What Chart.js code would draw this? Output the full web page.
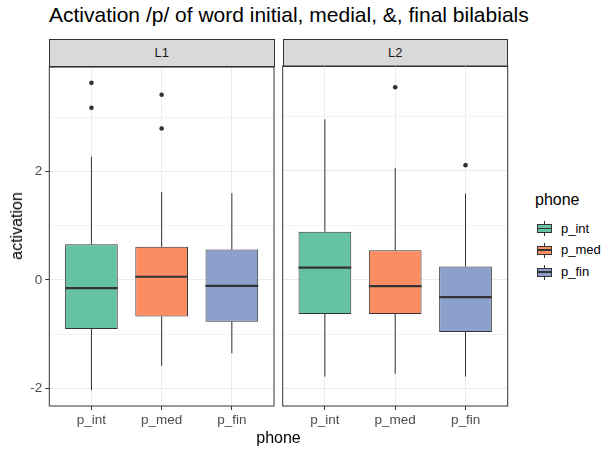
<!DOCTYPE html>
<html>
<head>
<meta charset="utf-8">
<script src="https://cdn.jsdelivr.net/npm/chart.js@4.4.1/dist/chart.umd.min.js"></script>
<style>
  body { margin: 0; background: #fff; font-family: "Liberation Sans", Arial, sans-serif; }
  #wrap { position: relative; width: 608px; height: 452px; overflow: hidden; }
  .abs { position: absolute; white-space: nowrap; }
  #title { left: 49px; top: 3px; font-size: 21px; color: #000; }
  .strip { top: 39px; height: 27.5px; background: #D9D9D9; border: 1px solid #333; box-sizing: border-box;
           font-size: 13px; color: #1A1A1A; text-align: center; line-height: 25px; }
  .axtitle { font-size: 16px; color: #000; transform: translate(-50%, -50%); }
  #ytitle { left: 17px; top: 226px; transform: translate(-50%, -50%) rotate(-90deg); }
  #xtitle { left: 278.5px; top: 438px; }
  #legtitle { left: 535px; top: 191px; font-size: 16px; }
  .key { width: 17px; height: 17px; }
  .key .wh { position: absolute; left: 8px; top: 1px; width: 1px; height: 15px; background: #333; }
  .key .bx { position: absolute; left: 1px; top: 4px; width: 15px; height: 9px; border: 1px solid #333; box-sizing: border-box; }
  .key .md { position: absolute; left: 1px; top: 7.8px; width: 15px; height: 1.5px; background: #333; }
  .leglab { font-size: 13px; color: #000; }
  canvas { position: absolute; }
</style>
</head>
<body>
<div id="wrap">
  <div id="title" class="abs">Activation /p/ of word initial, medial, &amp;, final bilabials</div>
  <div class="abs strip" style="left:49px; width:225.5px;">L1</div>
  <div class="abs strip" style="left:282.5px; width:225.5px;">L2</div>
  <canvas id="c1" width="280" height="396" style="left:0; top:56px;"></canvas>
  <canvas id="c2" width="236" height="396" style="left:276px; top:56px;"></canvas>
  <div id="ytitle" class="abs axtitle">activation</div>
  <div id="xtitle" class="abs axtitle">phone</div>
  <div id="legtitle" class="abs">phone</div>
</div>
<script>
// categories and colours
const phones = ['p_int', 'p_med', 'p_fin'];
const fills = ['#66C2A5', '#FC8D62', '#8DA0CB'];

// L1 box summaries
const l1Low    = [-2.03, -1.58, -1.35];
const l1Q1     = [-0.90, -0.67, -0.77];
const l1Median = [-0.15,  0.06, -0.11];
const l1Q3     = [ 0.66,  0.61,  0.56];
const l1High   = [ 2.27,  1.62,  1.60];
const l1Outliers = [[3.63, 3.17], [3.41, 2.79], []];

// L2 box summaries
const l2Low    = [-1.78, -1.73, -1.78];
const l2Q1     = [-0.63, -0.63, -0.96];
const l2Median = [ 0.22, -0.12, -0.32];
const l2Q3     = [ 0.88,  0.54,  0.24];
const l2High   = [ 2.94,  2.05,  1.58];
const l2Outliers = [[], [3.53], [2.10]];

// axis
const yTickLabels = [-2, 0, 2];
const yMin = -2.32, yMax = 3.92;

const FONT = '"Liberation Sans", Arial, sans-serif';
const INK = '#333333';

// whiskers under the boxes, medians over them, and the panel frame
const boxplotParts = {
  id: 'boxplotParts',
  beforeDatasetsDraw(chart, args, opts) {
    const { ctx, scales: { x, y } } = chart;
    ctx.save();
    ctx.strokeStyle = INK;
    ctx.lineWidth = 1;
    phones.forEach((p, i) => {
      const px = x.getPixelForValue(i + 1);
      ctx.beginPath();
      ctx.moveTo(px, y.getPixelForValue(opts.high[i]));
      ctx.lineTo(px, y.getPixelForValue(opts.q3[i]));
      ctx.moveTo(px, y.getPixelForValue(opts.q1[i]));
      ctx.lineTo(px, y.getPixelForValue(opts.low[i]));
      ctx.stroke();
    });
    ctx.restore();
  },
  afterDatasetsDraw(chart, args, opts) {
    const { ctx, scales: { y } } = chart;
    const bars = chart.getDatasetMeta(0).data;
    ctx.save();
    ctx.strokeStyle = INK;
    ctx.lineWidth = 2.2;
    bars.forEach((bar, i) => {
      const py = y.getPixelForValue(opts.median[i]);
      ctx.beginPath();
      ctx.moveTo(bar.x - bar.width / 2, py);
      ctx.lineTo(bar.x + bar.width / 2, py);
      ctx.stroke();
    });
    ctx.restore();
  },
  afterDraw(chart) {
    const { ctx, chartArea: a } = chart;
    ctx.save();
    ctx.strokeStyle = INK;
    ctx.lineWidth = 1;
    ctx.strokeRect(a.left, a.top, a.right - a.left, a.bottom - a.top);
    ctx.restore();
  }
};

function makePanel(canvasId, low, q1, median, q3, high, outliers, showY, yAxisWidth, padRight) {
  const boxes = phones.map((p, i) => ({ x: i + 1, y: [q1[i], q3[i]] }));
  const points = [];
  outliers.forEach((vals, i) => vals.forEach(v => points.push({ x: i + 1, y: v })));

  return new Chart(document.getElementById(canvasId), {
    type: 'bar',
    data: {
      datasets: [
        {
          type: 'bar',
          data: boxes,
          backgroundColor: fills,
          borderColor: INK,
          borderWidth: 1,
          borderSkipped: false,
          barPercentage: 0.75,
          categoryPercentage: 1
        },
        {
          type: 'scatter',
          data: points,
          pointRadius: 2.3,
          pointBackgroundColor: INK,
          pointBorderWidth: 0
        }
      ]
    },
    options: {
      responsive: false,
      animation: false,
      events: [],
      layout: { padding: { top: 10, right: padRight, left: 0, bottom: 0 } },
      plugins: {
        legend: { display: false },
        tooltip: { enabled: false },
        boxplotParts: { low, q1, median, q3, high }
      },
      scales: {
        x: {
          type: 'linear',
          min: 0.4,
          max: 3.6,
          offset: false,
          border: { display: false },
          grid: { color: '#EBEBEB', lineWidth: 1, tickColor: INK, tickLength: 4, offset: false },
          ticks: {
            stepSize: 1,
            includeBounds: false,
            autoSkip: false,
            maxRotation: 0,
            padding: 2,
            color: '#4D4D4D',
            font: { size: 13.5, family: FONT },
            callback: v => phones[v - 1] || ''
          },
          afterFit: s => { s.height = 46; }
        },
        y: {
          min: yMin,
          max: yMax,
          border: { display: false },
          grid: {
            color: c => (c.tick && c.tick.value % 2 === 0) ? '#EBEBEB' : '#F3F3F3',
            lineWidth: 1,
            tickColor: c => (c.tick && c.tick.value % 2 === 0) ? INK : 'rgba(0,0,0,0)',
            tickLength: 4,
            drawTicks: showY
          },
          ticks: {
            display: showY,
            stepSize: 1,
            includeBounds: false,
            autoSkip: false,
            padding: 3,
            color: '#4D4D4D',
            font: { size: 13.5, family: FONT },
            callback: v => yTickLabels.includes(v) ? String(v) : ''
          },
          afterFit: s => { s.width = yAxisWidth; }
        }
      }
    },
    plugins: [boxplotParts]
  });
}

makePanel('c1', l1Low, l1Q1, l1Median, l1Q3, l1High, l1Outliers, true, 49.3, 6);
makePanel('c2', l2Low, l2Q1, l2Median, l2Q3, l2High, l2Outliers, false, 6.7, 4.3);

// legend built from the same categories and colours
const wrap = document.getElementById('wrap');
const legendRows = [228.5, 250, 272];
phones.forEach((p, i) => {
  const key = document.createElement('div');
  key.className = 'abs key';
  key.style.left = '535.5px';
  key.style.top = (legendRows[i] - 8.5) + 'px';
  key.innerHTML = '<div class="wh"></div><div class="bx" style="background:' + fills[i] + '"></div><div class="md"></div>';
  wrap.appendChild(key);
  const lab = document.createElement('div');
  lab.className = 'abs leglab';
  lab.style.left = '561px';
  lab.style.top = (legendRows[i] - 8) + 'px';
  lab.textContent = p;
  wrap.appendChild(lab);
});
</script>
</body>
</html>
